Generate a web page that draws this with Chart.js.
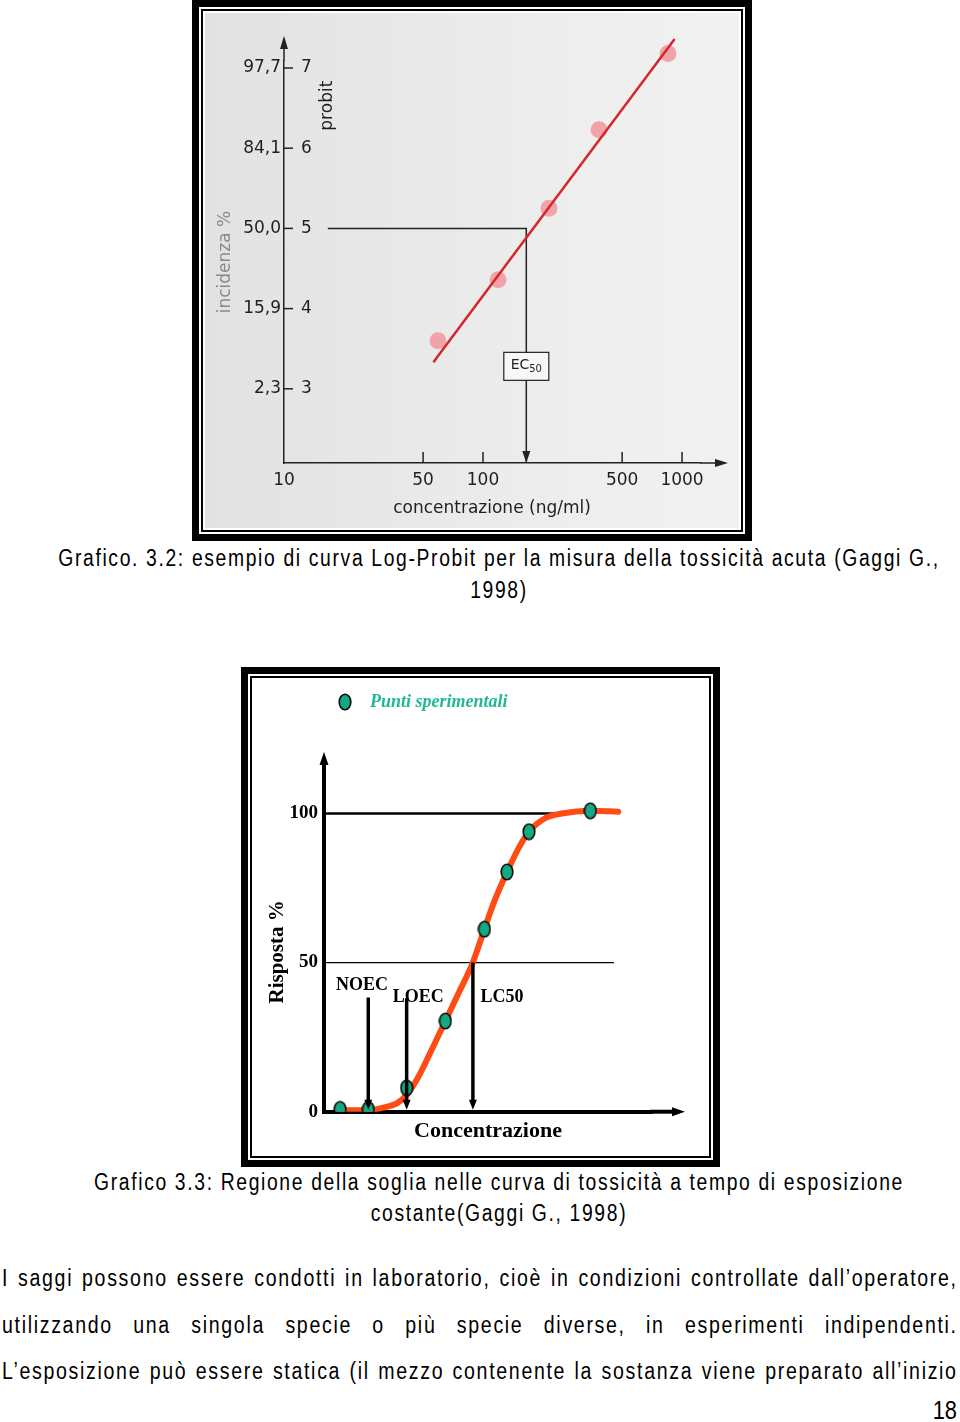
<!DOCTYPE html>
<html lang="it">
<head>
<meta charset="utf-8">
<title>Grafici 3.2 e 3.3</title>
<script src="https://cdn.jsdelivr.net/npm/chart.js@4.4.1/dist/chart.umd.min.js"></script>
<style>
    html, body { margin: 0; padding: 0; background: #fff; }
    body { width: 960px; height: 1422px; position: relative; overflow: hidden;
           font-family: "Liberation Sans", Arial, sans-serif; color: #000; }
    .cornice { position: absolute; box-sizing: border-box; border: 7px solid #000; padding: 2px; background: #fff; }
    .interno { box-sizing: border-box; width: 100%; height: 100%; border: 2px solid #000; padding: 2px; }
    .interno canvas { display: block; }
    #cornice1 { left: 192px; top: 0; width: 560px; height: 541px; }
    #cornice2 { left: 241px; top: 667px; width: 479px; height: 500px; }
    #grafico1 { background: linear-gradient(to right, #e2e2e2, #eeeeee 70%, #f1f1f1); }
    /* testo stretto: Liberation Sans compresso in orizzontale */
    .didascalia { position: absolute; left: -101px; width: 1200px; text-align: center; font-size: 23px;
                  letter-spacing: 1.96px; white-space: nowrap; transform: scaleX(0.84); transform-origin: center top; }
    .riga { position: absolute; left: 2px; width: 1123px; height: 46.5px; line-height: 46.5px; font-size: 23px;
            letter-spacing: 1.96px; text-align: justify; text-align-last: justify; white-space: nowrap;
            transform: scaleX(0.851); transform-origin: left top; }
    #pagina { position: absolute; right: 3px; top: 1395px; font-size: 26px; line-height: 30px;
              transform: scaleX(0.84); transform-origin: right top; }
</style>
</head>
<body>

<div class="cornice" id="cornice1"><div class="interno"><canvas id="grafico1" width="534" height="515"></canvas></div></div>
<div class="didascalia" style="top:542px; line-height:32px;">Grafico. 3.2: esempio di curva Log-Probit per la misura della tossicità acuta (Gaggi G.,<br>1998)</div>

<div class="cornice" id="cornice2"><div class="interno"><canvas id="grafico2" width="453" height="474"></canvas></div></div>
<div class="didascalia" style="top:1167px; line-height:31px;">Grafico 3.3: Regione della soglia nelle curva di tossicità a tempo di esposizione<br>costante(Gaggi G., 1998)</div>

<div class="riga" style="top:1255px;">I saggi possono essere condotti in laboratorio, cioè in condizioni controllate dall’operatore,</div>
<div class="riga" style="top:1301.5px;">utilizzando una singola specie o più specie diverse, in esperimenti indipendenti.</div>
<div class="riga" style="top:1348px;">L’esposizione può essere statica (il mezzo contenente la sostanza viene preparato all’inizio</div>
<div id="pagina">18</div>

<script>
/************* Grafico 3.2 - curva log-probit *************/
var concentrazioni = [59.4, 119, 214.6, 382.8, 850];
var probit = [3.6, 4.36, 5.25, 6.23, 7.18];
var rettaX = [56.3, 918];
var rettaY = [3.33, 7.36];
var ec50 = 165;
var ec50Inizio = 16.6;
var tickConc = [10, 50, 100, 500, 1000];
var tickProbit = [3, 4, 5, 6, 7];
var tickIncidenza = ['2,3', '15,9', '50,0', '84,1', '97,7'];

/************* Grafico 3.3 - soglia *************/
var puntiX = [4.9, 13.5, 25.2, 37.0, 48.9, 55.8, 62.5, 81.2];
var puntiY = [0.8, 0.8, 8.0, 30.4, 61.2, 80.4, 93.9, 100.9];
var curvaX = [4.9, 13.5, 18.6, 22.2, 25.2, 28.8, 32.8, 37.0, 41.0, 45.4, 48.9, 52.1, 55.8, 59.3, 62.5, 67.4, 72.5, 81.2, 89.7];
var curvaY = [0.5, 0.5, 1.5, 2.8, 5.6, 11.7, 20.7, 30.4, 39.7, 50.1, 61.2, 71.0, 80.4, 88.3, 93.9, 98.4, 100, 100.9, 100.6];
var soglieNomi = ['NOEC', 'LOEC', 'LC50'];
var soglieX = [13.5, 25.2, 45.4];
var soglieY = [38.3, 38, 50];
var tickRisposta = [0, 50, 100];

var Y1_MIN = 2.075, Y1_MAX = 7.087;
var Y2_MAX = 107.2;

function coppie(xs, ys) {
    var out = [];
    for (var i = 0; i < xs.length; i++) out.push({x: xs[i], y: ys[i]});
    return out;
}

// punta di freccia: (x,y) vertice, (dx,dy) direzione
function punta(ctx, x, y, dx, dy, larg, lung) {
    ctx.beginPath();
    ctx.moveTo(x, y);
    ctx.lineTo(x - dx * lung - dy * larg / 2, y - dy * lung + dx * larg / 2);
    ctx.lineTo(x - dx * lung + dy * larg / 2, y - dy * lung - dx * larg / 2);
    ctx.closePath();
    ctx.fill();
}

function linea(ctx, x1, y1, x2, y2) {
    ctx.beginPath();
    ctx.moveTo(x1, y1);
    ctx.lineTo(x2, y2);
    ctx.stroke();
}

// marcatore ovale dei punti sperimentali
function ellisse() {
    var c = document.createElement('canvas');
    c.width = 14;
    c.height = 18;
    var g = c.getContext('2d');
    g.beginPath();
    g.ellipse(7, 9, 5.8, 7.8, 0, 0, 2 * Math.PI);
    g.fillStyle = '#14a884';
    g.fill();
    g.lineWidth = 1.6;
    g.strokeStyle = '#0a0a0a';
    g.stroke();
    return c;
}
var ovale = ellisse();

var sans = 'DejaVu Sans';
var serif = 'Liberation Serif';
var grigio = '#1f1f1f';

var decorazioni1 = {
    id: 'decorazioni1',
    afterDatasetsDraw: function (chart) {
        var ctx = chart.ctx, a = chart.chartArea;
        var sx = chart.scales.x, sy = chart.scales.y;
        ctx.save();
        ctx.strokeStyle = '#222';
        ctx.fillStyle = '#222';
        ctx.lineWidth = 1.5;

        // prolungamento assi
        linea(ctx, a.left, a.top, a.left, a.top - 14);
        punta(ctx, a.left, a.top - 25, 0, -1, 8, 13);
        linea(ctx, a.right, a.bottom, a.right + 16, a.bottom);
        punta(ctx, a.right + 28, a.bottom, 1, 0, 8, 13);

        // trattini probit
        tickProbit.forEach(function (v) {
            var y = sy.getPixelForValue(v);
            linea(ctx, a.left, y, a.left + 9, y);
        });
        // tacche asse x
        tickConc.slice(1).forEach(function (v) {
            var x = sx.getPixelForValue(v);
            linea(ctx, x, a.bottom, x, a.bottom - 11);
        });

        // freccia e riquadro EC50
        var xe = sx.getPixelForValue(ec50);
        punta(ctx, xe, a.bottom, 0, 1, 8, 12);
        var ye = sy.getPixelForValue(3.28);
        ctx.fillStyle = '#f7f7f7';
        ctx.fillRect(xe - 22.5, ye - 14, 45, 28);
        ctx.lineWidth = 1.2;
        ctx.strokeRect(xe - 22.5, ye - 14, 45, 28);
        ctx.fillStyle = grigio;
        ctx.textBaseline = 'middle';
        ctx.textAlign = 'left';
        ctx.font = '14px ' + sans;
        var wEC = ctx.measureText('EC').width;
        ctx.font = '10px ' + sans;
        var w50 = ctx.measureText('50').width;
        var x0 = xe - (wEC + w50) / 2;
        ctx.font = '14px ' + sans;
        ctx.fillText('EC', x0, ye - 1);
        ctx.font = '10px ' + sans;
        ctx.fillText('50', x0 + wEC, ye + 3);

        // etichetta probit
        ctx.font = '17px ' + sans;
        ctx.textAlign = 'center';
        ctx.translate(a.left + 44, sy.getPixelForValue(6.53));
        ctx.rotate(-Math.PI / 2);
        ctx.fillText('probit', 0, 0);
        ctx.restore();
    }
};

new Chart(document.getElementById('grafico1'), {
    type: 'scatter',
    data: {
        datasets: [{
            data: coppie(rettaX, rettaY),
            showLine: true,
            borderColor: '#d3272b',
            borderWidth: 2.5,
            pointRadius: 0,
            clip: false
        }, {
            data: coppie(concentrazioni, probit),
            backgroundColor: '#f2a3aa',
            borderWidth: 0,
            pointRadius: 8.5,
            clip: false
        }, {
            data: [{x: ec50Inizio, y: 5}, {x: ec50, y: 5}, {x: ec50, y: Y1_MIN}],
            showLine: true,
            borderColor: '#222',
            borderWidth: 1.5,
            pointRadius: 0
        }]
    },
    plugins: [decorazioni1],
    options: {
        responsive: false,
        animation: false,
        events: [],
        layout: {padding: {top: 48, right: 39, bottom: 0, left: 0}},
        plugins: {legend: {display: false}, tooltip: {enabled: false}},
        scales: {
            x: {
                type: 'logarithmic',
                min: 10,
                max: 1231,
                afterBuildTicks: function (s) { s.ticks = tickConc.map(function (v) { return {value: v}; }); },
                afterFit: function (s) { s.height = 65; },
                ticks: {
                    callback: function (v) { return String(v); },
                    autoSkip: false, maxRotation: 0, padding: 7,
                    color: grigio, font: {family: sans, size: 17}
                },
                grid: {display: false, drawTicks: false},
                border: {display: true, color: '#222', width: 1.5},
                title: {
                    display: true, text: 'concentrazione (ng/ml)', color: grigio,
                    font: {family: sans, size: 17}, padding: {top: 0, bottom: 9}
                }
            },
            y: {
                position: 'left',
                weight: 0,
                min: Y1_MIN,
                max: Y1_MAX,
                afterBuildTicks: function (s) { s.ticks = tickProbit.map(function (v) { return {value: v}; }); },
                afterFit: function (s) { s.width = 0; },
                ticks: {mirror: true, padding: 17, color: grigio, font: {family: sans, size: 17}},
                grid: {display: false, drawTicks: false},
                border: {display: true, color: '#222', width: 1.5}
            },
            yp: {
                position: 'left',
                weight: 1,
                min: Y1_MIN,
                max: Y1_MAX,
                afterBuildTicks: function (s) { s.ticks = tickProbit.map(function (v) { return {value: v}; }); },
                afterFit: function (s) { s.width = 79; },
                ticks: {
                    padding: 3, color: grigio, font: {family: sans, size: 17},
                    callback: function (v, i) { return tickIncidenza[i]; }
                },
                grid: {display: false, drawTicks: false},
                border: {display: false},
                title: {
                    display: true, text: 'incidenza %', color: '#8a8a8a',
                    font: {family: sans, size: 17}, padding: {top: 10, bottom: 0}
                }
            }
        }
    }
});

var decorazioni2 = {
    id: 'decorazioni2',
    afterDatasetsDraw: function (chart) {
        var ctx = chart.ctx, a = chart.chartArea;
        var sx = chart.scales.x, sy = chart.scales.y;
        var o = chart.options.plugins.decorazioni2;
        ctx.save();
        ctx.strokeStyle = '#000';
        ctx.fillStyle = '#000';

        // prolungamento assi
        ctx.lineWidth = 4;
        linea(ctx, a.left, a.top + 2, a.left, a.top - 28);
        punta(ctx, a.left, a.top - 40, 0, -1, 9, 13);
        linea(ctx, a.right - 2, a.bottom, a.right + 22, a.bottom);
        punta(ctx, a.right + 33, a.bottom, 1, 0, 9, 13);

        // frecce delle soglie
        soglieX.forEach(function (v) {
            punta(ctx, sx.getPixelForValue(v), a.bottom - 2, 0, 1, 8, 10);
        });

        ctx.font = 'bold 18px ' + serif;
        ctx.textAlign = 'center';
        ctx.textBaseline = 'middle';
        soglieNomi.forEach(function (n, i) {
            ctx.fillText(n, sx.getPixelForValue(o.etichetteX[i]), sy.getPixelForValue(o.etichetteY[i]));
        });

        // legenda
        ctx.drawImage(ovale, a.left + 21 - 7, 22 - 9);
        ctx.font = 'italic bold 18px ' + serif;
        ctx.fillStyle = '#22b893';
        ctx.textAlign = 'left';
        ctx.fillText('Punti sperimentali', a.left + 46, 22);
        ctx.restore();
    }
};

var datiSoglie = soglieNomi.map(function (n, i) {
    return {
        data: [{x: soglieX[i], y: soglieY[i]}, {x: soglieX[i], y: 3}],
        showLine: true,
        borderColor: '#000',
        borderWidth: 3.5,
        pointRadius: 0
    };
});

new Chart(document.getElementById('grafico2'), {
    type: 'scatter',
    data: {
        datasets: datiSoglie.concat([{
            data: coppie(puntiX, puntiY),
            pointStyle: ovale,
            pointRadius: 8
        }, {
            data: coppie(curvaX, curvaY),
            showLine: true,
            borderColor: '#ff4b14',
            borderWidth: 6,
            borderCapStyle: 'round',
            cubicInterpolationMode: 'monotone',
            pointRadius: 0
        }, {
            data: [{x: 0, y: 100}, {x: 72, y: 100}],
            showLine: true,
            borderColor: '#000',
            borderWidth: 2.5,
            pointRadius: 0
        }, {
            data: [{x: 0, y: 50}, {x: 88.4, y: 50}],
            showLine: true,
            borderColor: '#000',
            borderWidth: 1.2,
            pointRadius: 0
        }])
    },
    plugins: [decorazioni2],
    options: {
        responsive: false,
        animation: false,
        events: [],
        layout: {padding: {top: 112, right: 55, bottom: 0, left: 0}},
        plugins: {
            legend: {display: false},
            tooltip: {enabled: false},
            decorazioni2: {etichetteX: [11.6, 28.7, 54.3], etichetteY: [42.5, 38.5, 38.5]}
        },
        scales: {
            x: {
                min: 0,
                max: 100,
                afterFit: function (s) { s.height = 42.3; },
                ticks: {display: false},
                grid: {display: false, drawTicks: false},
                border: {display: true, color: '#000', width: 4},
                title: {
                    display: true, text: 'Concentrazione', color: '#000',
                    font: {family: serif, size: 22, weight: 'bold'}, padding: {top: 0, bottom: 9.5}
                }
            },
            y: {
                min: 0,
                max: Y2_MAX,
                afterBuildTicks: function (s) { s.ticks = tickRisposta.map(function (v) { return {value: v}; }); },
                afterFit: function (s) { s.width = 70; },
                ticks: {padding: 6, color: '#000', font: {family: serif, size: 19, weight: 'bold'}},
                grid: {display: false, drawTicks: false},
                border: {display: true, color: '#000', width: 4},
                title: {
                    display: true, text: 'Risposta %', color: '#000',
                    font: {family: serif, size: 21, weight: 'bold'}, padding: {top: 11.4, bottom: 0}
                }
            }
        }
    }
});
</script>
</body>
</html>
